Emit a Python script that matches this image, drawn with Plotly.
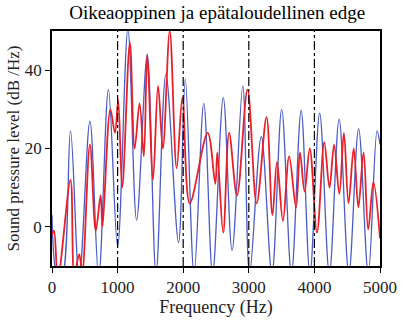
import plotly.graph_objects as go

# Spectrum of two vowel recordings: frequency (Hz) vs. sound pressure level (dB/Hz)
blue_freq = [0, 90, 150, 282, 415, 578, 712, 860, 1000, 1157, 1290, 1452, 1586,
             1736, 1929, 2032, 2166, 2314, 2448, 2611, 2745, 2908, 3012, 3190,
             3353, 3501, 3650, 3798, 3932, 4080, 4228, 4377, 4525, 4674, 4822, 4955, 5000]
blue_db = [3, -13, -13, 24.5, -13, 27, -13, 35, -5, 50.5, 1.7, 44, -12,
           39, -4, 37.7, -12, 31.5, -12, 33, -6, 36, -12, 23,
           -12, 30, -12, 29.7, -12, 29, -12, 27.5, -12, 25, -12, 24.5, 21]

red_freq = [0, 30, 90, 282, 340, 415, 460, 578, 667, 741, 770, 890, 960, 1009,
            1070, 1187, 1260, 1335, 1400, 1452, 1540, 1617, 1690, 1795, 1900,
            1988, 2100, 2373, 2490, 2520, 2610, 2700, 2820, 2980, 3120, 3270,
            3360, 3430, 3520, 3615, 3720, 3780, 3850, 3930, 4040, 4150, 4230,
            4300, 4380, 4450, 4520, 4600, 4670, 4750, 4820, 4900, 5000]
red_db = [-2, -1, -13, 12, -12, -7, -12, 21, -1, 8, 0, 30, 24, 32.5,
          10, 47, 20, 31.5, 18, 44, 12, 36, 20, 50, 15,
          33, 6, 24, 11, 19, -1.5, 24, 8, 35, 6, 28,
          3, 16.6, 1.5, 18, 5, 19, 9, 20, -1.5, 21.6, 10,
          21, 8.4, 24, 6, 20, 5, 19, -0.7, 11.4, -3]

fig = go.Figure()
fig.add_trace(go.Scatter(x=blue_freq, y=blue_db, mode="lines",
                         line=dict(color="#4a5cc4", width=1.3, shape="spline", smoothing=1.0),
                         showlegend=False))
fig.add_trace(go.Scatter(x=red_freq, y=red_db, mode="lines",
                         line=dict(color="#e8202a", width=1.8, shape="spline", smoothing=1.0),
                         showlegend=False))

# dash-dot guides at every kHz
guides = [1000, 2000, 3000, 4000]
for g in guides:
    fig.add_shape(type="line", x0=g, x1=g, y0=0, y1=1, xref="x", yref="paper",
                  line=dict(color="black", width=1.2, dash="dashdot"))

serif = "Liberation Serif"
fig.update_layout(
    width=409, height=325,
    margin=dict(l=50, r=22, t=31, b=52),
    paper_bgcolor="white", plot_bgcolor="white",
    title=dict(text="Oikeaoppinen ja epätaloudellinen edge", x=0.531, xanchor="center",
               y=0.962, yanchor="middle", font=dict(family=serif, size=19, color="black")),
    font=dict(family=serif, color="#222"),
)
fig.update_xaxes(range=[0, 5000], tickvals=[0, 1000, 2000, 3000, 4000, 5000],
                 ticks="outside", ticklen=5, tickcolor="black",
                 showline=True, linecolor="black", linewidth=1.5, mirror=True,
                 showgrid=False, zeroline=False,
                 tickfont=dict(family=serif, size=17, color="#222"),
                 title=dict(text="Frequency (Hz)", standoff=3,
                            font=dict(family=serif, size=18, color="#222")))
fig.update_yaxes(range=[-10, 50], tickvals=[0, 20, 40],
                 ticks="outside", ticklen=5, tickcolor="black",
                 showline=True, linecolor="black", linewidth=1.5, mirror=True,
                 showgrid=False, zeroline=False,
                 tickfont=dict(family=serif, size=17, color="#222"),
                 title=dict(text="Sound pressure level (dB /Hz)", standoff=1,
                            font=dict(family=serif, size=17, color="#222")))

fig.write_html("out.html")
